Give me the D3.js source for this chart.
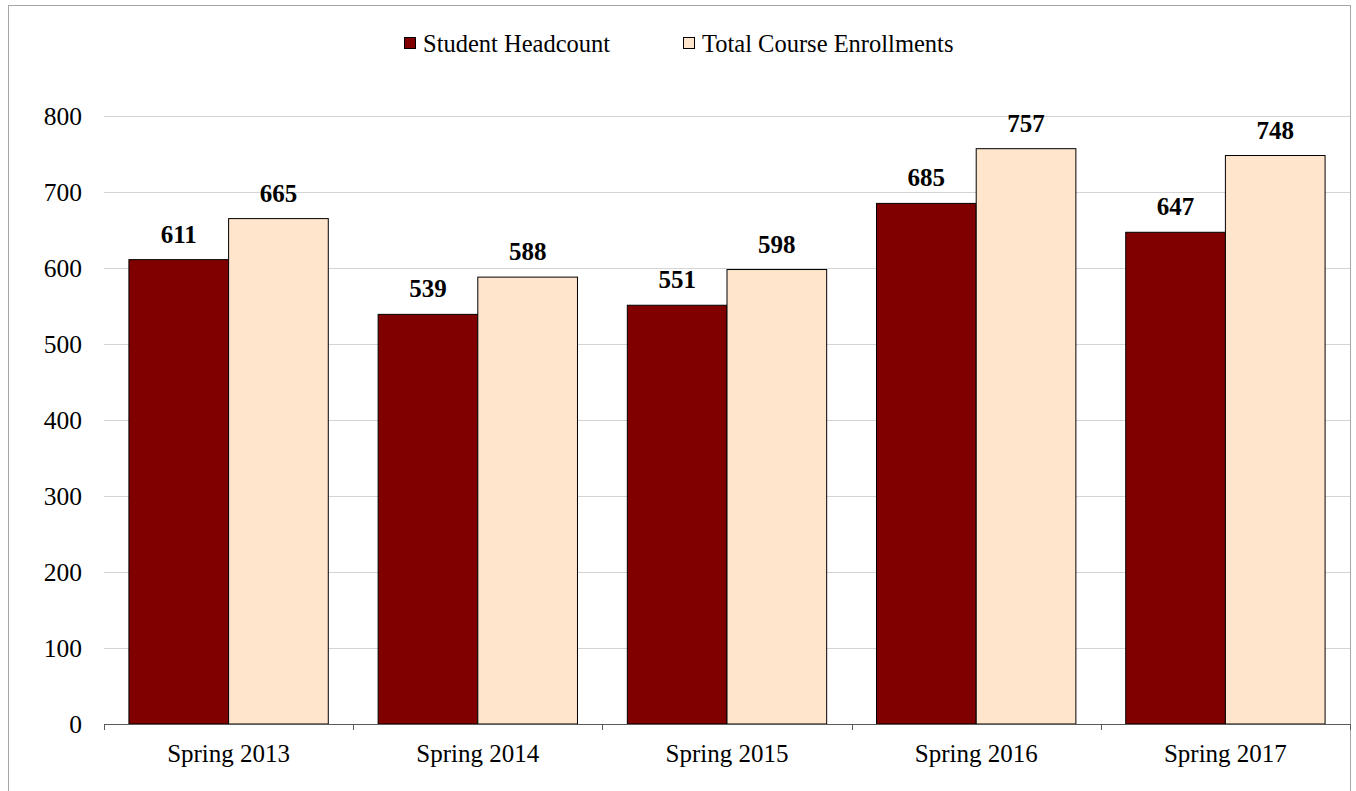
<!DOCTYPE html>
<html>
<head>
<meta charset="utf-8">
<script src="https://cdn.jsdelivr.net/npm/d3@7"></script>
<style>
  body { margin: 0; background: #fff; }
  text { font-family: "Liberation Serif", "Times New Roman", serif; }
</style>
</head>
<body>
<script>
const w = 1356;
const h = 791;

const terms = ["Spring 2013", "Spring 2014", "Spring 2015", "Spring 2016", "Spring 2017"];
const headcount = [611, 539, 551, 685, 647];
const enrollments = [665, 588, 598, 757, 748];
const seriesNames = ["Student Headcount", "Total Course Enrollments"];
const yTicks = [0, 100, 200, 300, 400, 500, 600, 700, 800];

const colors = ["#800000", "#ffe5cc"];

const plotLeft = 104, plotRight = 1350, plotTop = 116, plotBottom = 724;

const svg = d3.select("body")
    .append("svg")
    .attr("width", w)
    .attr("height", h)

// chart border
svg.append("rect")
    .attr("x", 8.5)
    .attr("y", 5.5)
    .attr("width", 1342)
    .attr("height", 820)
    .style("fill", "none")
    .style("stroke", "#a6a6a6")

const xScale = d3.scaleBand()
    .domain(terms)
    .range([plotLeft, plotRight])
    .paddingInner(0.2)
    .paddingOuter(0.1)

const xSub = d3.scaleBand()
    .domain([0, 1])
    .range([0, xScale.bandwidth()])

const yScale = d3.scaleLinear()
    .domain([0, 800])
    .range([plotBottom, plotTop])

// gridlines
svg.append("g")
    .attr("transform", `translate(${plotLeft}, 0)`)
    .call(d3.axisLeft(yScale).tickValues(yTicks.slice(1)).tickSize(-(plotRight - plotLeft)).tickFormat(""))
    .call(g => g.select(".domain").remove())
    .call(g => g.selectAll("line").style("stroke", "#d4d4d4"))

// y labels
svg.append("g")
    .attr("transform", `translate(${plotLeft}, 0)`)
    .call(d3.axisLeft(yScale).tickValues(yTicks).tickSize(0).tickPadding(22))
    .call(g => g.select(".domain").remove())
    .call(g => g.selectAll("text")
        .style("font-family", "Liberation Serif, serif")
        .style("font-size", "25.5px")
        .style("fill", "#000"))

const rows = terms.map((t, i) => ({term: t, values: [headcount[i], enrollments[i]]}))

const groups = svg.selectAll(".grp")
    .data(rows)
    .enter()
    .append("g")
      .attr("transform", d => `translate(${xScale(d.term)}, 0)`)

groups.selectAll("rect")
    .data(d => d.values)
    .enter()
    .append("rect")
      .attr("x", (d, i) => xSub(i))
      .attr("y", d => yScale(d))
      .attr("width", xSub.bandwidth())
      .attr("height", d => yScale(0) - yScale(d))
      .style("fill", (d, i) => colors[i])
      .style("stroke", "#000")
      .style("stroke-width", 1)

groups.selectAll(".lbl")
    .data(d => d.values)
    .enter()
    .append("text")
      .attr("x", (d, i) => xSub(i) + xSub.bandwidth() / 2)
      .attr("y", d => yScale(d) - 17)
      .attr("text-anchor", "middle")
      .style("font-size", "25px")
      .style("font-weight", "bold")
      .text(d => d)

// x axis
const step = xScale.step();
const bounds = [plotLeft].concat(terms.map(t => xScale(t) + xScale.bandwidth() + step * 0.1));

svg.append("line")
    .attr("x1", plotLeft)
    .attr("x2", plotRight)
    .attr("y1", plotBottom + 0.5)
    .attr("y2", plotBottom + 0.5)
    .style("stroke", "#595959")

svg.selectAll(".xtick")
    .data(bounds)
    .enter()
    .append("line")
      .attr("x1", d => Math.round(d) + 0.5)
      .attr("x2", d => Math.round(d) + 0.5)
      .attr("y1", plotBottom)
      .attr("y2", plotBottom + 6)
      .style("stroke", "#595959")

svg.append("g")
    .attr("transform", `translate(0, ${plotBottom})`)
    .call(d3.axisBottom(xScale).tickSize(0).tickPadding(20))
    .call(g => g.select(".domain").remove())
    .call(g => g.selectAll("text")
        .style("font-family", "Liberation Serif, serif")
        .style("font-size", "25px")
        .style("fill", "#000"))

// legend
const legendX = [404, 683];
const legend = svg.selectAll(".legend")
    .data(seriesNames)
    .enter()
    .append("g")
      .attr("transform", (d, i) => `translate(${legendX[i]}, 43)`)

legend.append("rect")
    .attr("x", 0.5)
    .attr("y", -5.5)
    .attr("width", 11)
    .attr("height", 11)
    .style("fill", (d, i) => colors[i])
    .style("stroke", "#000")

legend.append("text")
    .attr("x", 19)
    .attr("y", 8.5)
    .style("font-size", "24.5px")
    .text(d => d)
</script>
</body>
</html>
